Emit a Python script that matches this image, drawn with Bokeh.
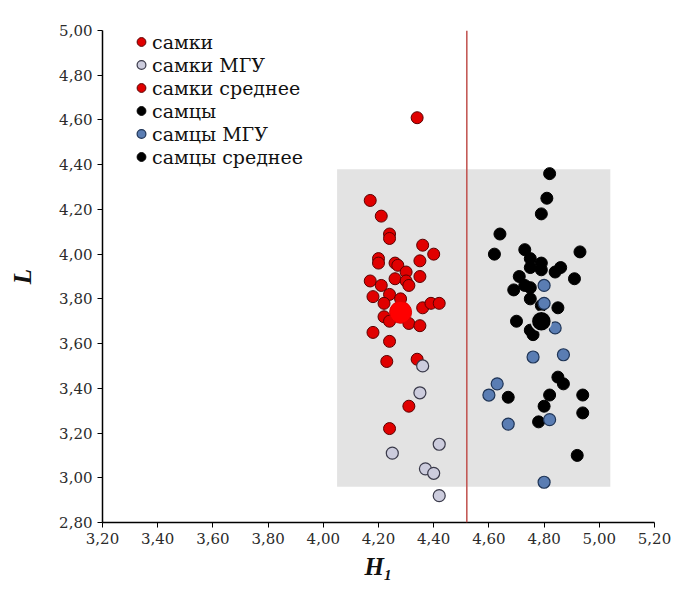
from bokeh.plotting import figure
from bokeh.models import Range1d, Span, Legend, LegendItem, CustomJSTickFormatter
from bokeh.embed import file_html
from bokeh.resources import INLINE

# самки
fem_h = [4.34, 4.17, 4.21, 4.24, 4.24, 4.36, 4.40, 4.35, 4.20, 4.20, 4.26, 4.27,
         4.30, 4.17, 4.21, 4.26, 4.30, 4.31, 4.35, 4.18, 4.24, 4.28, 4.22, 4.36,
         4.39, 4.42, 4.22, 4.24, 4.31, 4.35, 4.18, 4.24, 4.23, 4.34, 4.31, 4.24]
fem_l = [4.61, 4.24, 4.17, 4.09, 4.07, 4.04, 4.00, 3.97, 3.98, 3.96, 3.96, 3.95,
         3.92, 3.88, 3.86, 3.89, 3.88, 3.86, 3.90, 3.81, 3.82, 3.80, 3.78, 3.76,
         3.78, 3.78, 3.72, 3.70, 3.69, 3.68, 3.65, 3.61, 3.52, 3.53, 3.32, 3.22]
# самки МГУ
fem_mgu_h = [4.36, 4.35, 4.42, 4.25, 4.37, 4.40, 4.42]
fem_mgu_l = [3.50, 3.38, 3.15, 3.11, 3.04, 3.02, 2.92]
# самки среднее
fem_mean_h = [4.28]
fem_mean_l = [3.74]

# самцы
mal_h = [4.82, 4.81, 4.79, 4.64, 4.62, 4.93, 4.73, 4.75, 4.79, 4.75, 4.79, 4.86,
         4.84, 4.91, 4.71, 4.73, 4.69, 4.75, 4.75, 4.85, 4.79, 4.70, 4.75, 4.76,
         4.85, 4.87, 4.67, 4.82, 4.94, 4.80, 4.78, 4.94, 4.92]
mal_l = [4.36, 4.25, 4.18, 4.09, 4.00, 4.01, 4.02, 3.98, 3.96, 3.94, 3.93, 3.94,
         3.92, 3.89, 3.90, 3.86, 3.84, 3.85, 3.80, 3.76, 3.77, 3.70, 3.66, 3.64,
         3.45, 3.42, 3.36, 3.37, 3.37, 3.32, 3.25, 3.29, 3.10]
# самцы МГУ
mal_mgu_h = [4.80, 4.80, 4.84, 4.76, 4.87, 4.63, 4.60, 4.82, 4.67, 4.80]
mal_mgu_l = [3.86, 3.78, 3.67, 3.54, 3.55, 3.42, 3.37, 3.26, 3.24, 2.98]
# самцы среднее
mal_mean_h = [4.79]
mal_mean_l = [3.70]

# серая область и граница
zone_h = [4.05, 5.04]
zone_l = [2.96, 4.38]
border_h = 4.52

p = figure(width=674, height=583, output_backend="svg", toolbar_location=None,
           x_range=Range1d(3.2, 5.2), y_range=Range1d(2.8, 5.0))
p.min_border_left = 102
p.min_border_right = 20
p.min_border_top = 30
p.min_border_bottom = 61
p.outline_line_color = None
p.grid.visible = False

p.quad(left=[zone_h[0]], right=[zone_h[1]], bottom=[zone_l[0]], top=[zone_l[1]],
       fill_color="#e3e3e3", line_color=None)
p.add_layout(Span(location=border_h, dimension="height", line_color="#c0504d", line_width=1.5))

r1 = p.scatter(fem_h, fem_l, size=12, fill_color="#e00000", line_color="#5a0000", line_width=1)
r2 = p.scatter(fem_mgu_h, fem_mgu_l, size=12, fill_color="#ccccdd", line_color="#3a3a4a", line_width=1.2)
r3 = p.scatter(fem_mean_h, fem_mean_l, size=22, fill_color="#ff0000", line_color="#e00000", line_width=1)
r4 = p.scatter(mal_h, mal_l, size=12, fill_color="black", line_color="black")
r5 = p.scatter(mal_mgu_h, mal_mgu_l, size=12, fill_color="#5a7db3", line_color="#1f3557", line_width=1.2)
r6 = p.scatter(mal_mean_h, mal_mean_l, size=20, fill_color="black", line_color="#dddddd", line_width=1.5)

legend = Legend(items=[
    LegendItem(label="самки", renderers=[r1]),
    LegendItem(label="самки МГУ", renderers=[r2]),
    LegendItem(label="самки среднее", renderers=[r1]),
    LegendItem(label="самцы", renderers=[r4]),
    LegendItem(label="самцы МГУ", renderers=[r5]),
    LegendItem(label="самцы среднее", renderers=[r4]),
], location=(28, 354))
legend.background_fill_alpha = 0
legend.border_line_color = None
legend.padding = 0
legend.margin = 0
legend.spacing = 0
legend.glyph_width = 22
legend.glyph_height = 23
legend.label_height = 23
legend.label_standoff = 0
legend.label_text_font = "DejaVu Serif"
legend.label_text_font_size = "19px"
legend.label_text_color = "#111111"
p.add_layout(legend)

fmt = CustomJSTickFormatter(code="return tick.toFixed(2).replace('.', ',');")
p.xaxis.ticker = [3.2 + 0.2 * i for i in range(11)]
p.yaxis.ticker = [2.8 + 0.2 * i for i in range(12)]
for ax in (p.xaxis, p.yaxis):
    ax.formatter = fmt
    ax.major_label_text_font = "DejaVu Serif"
    ax.major_label_text_font_size = "15px"
    ax.major_label_text_color = "#2b2b2b"
    ax.axis_line_color = "black"
    ax.axis_line_width = 1.5
    ax.major_tick_line_color = "black"
    ax.major_tick_in = 0
    ax.major_tick_out = 5
    ax.minor_tick_line_color = None
    ax.axis_label_text_font = "Liberation Serif"
    ax.axis_label_text_font_style = "bold italic"
    ax.axis_label_text_font_size = "25px"
    ax.axis_label_text_color = "#111111"

p.xaxis.axis_label = "H₁"
p.xaxis.axis_label_standoff = 6
p.yaxis.axis_label = "L"
p.yaxis.axis_label_standoff = 20

open("out.html", "w").write(file_html(p, INLINE))
